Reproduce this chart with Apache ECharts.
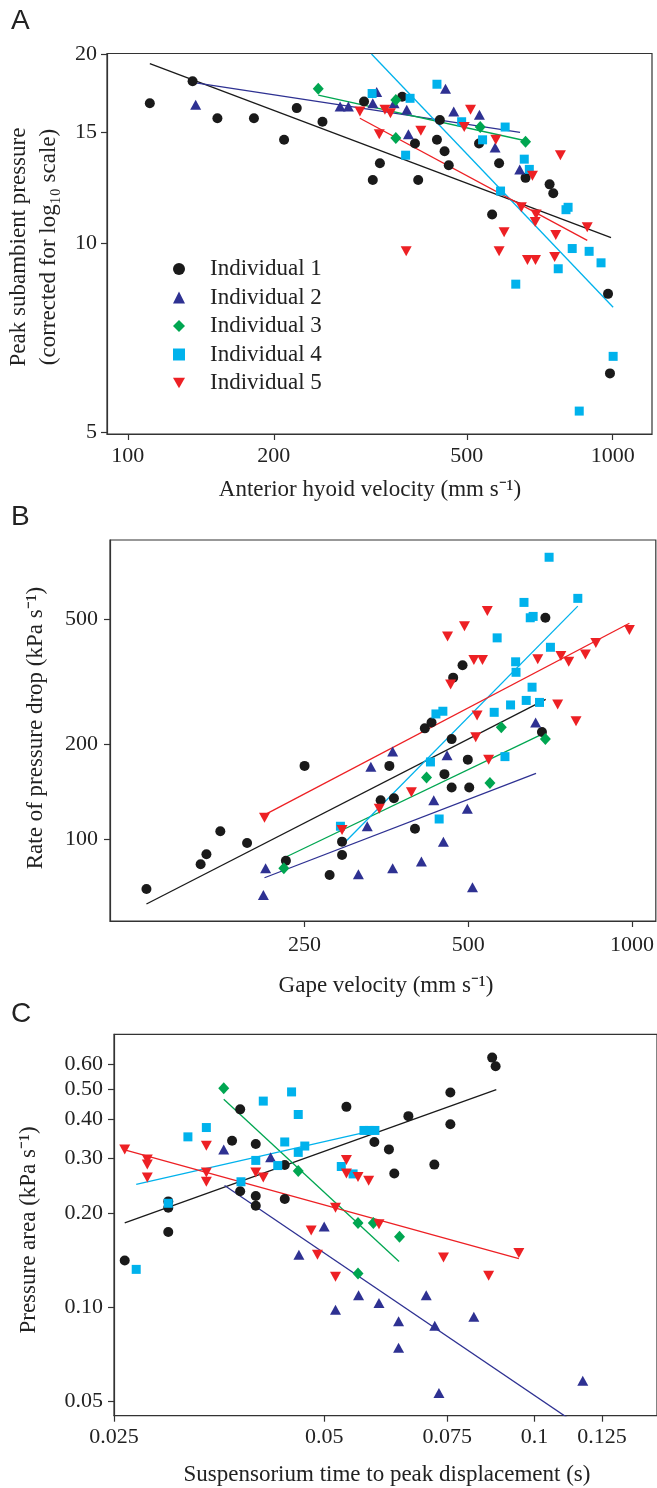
<!DOCTYPE html>
<html>
<head>
<meta charset="utf-8">
<title>Subambient pressure vs kinematics</title>
<script src="https://cdn.jsdelivr.net/npm/echarts@6/dist/echarts.min.js"></script>
<style>
  html, body { margin: 0; padding: 0; background: #fff; }
  #main { width: 657px; height: 1488px; }
</style>
</head>
<body>
<div id="main"></div>
<script>
var names = ['Individual 1', 'Individual 2', 'Individual 3', 'Individual 4', 'Individual 5'];

// ---- panel A: anterior hyoid velocity vs peak subambient pressure
var a1x = [111, 136, 153, 182, 210, 223, 252, 307, 331, 320, 368, 391, 397, 434, 440, 450, 459, 530, 583, 564, 661, 741, 754, 978, 987];
var a1y = [16.7, 18.1, 15.8, 15.8, 14.6, 16.4, 15.6, 16.8, 13.4, 12.6, 17.1, 14.4, 12.6, 14.6, 15.7, 14.0, 13.3, 14.4, 13.4, 11.1, 12.7, 12.4, 12.0, 8.3, 6.2];
var a2x = [138, 274, 285, 320, 326, 354, 376, 379, 452, 470, 531, 572, 643];
var a2y = [16.6, 16.5, 16.5, 16.7, 17.4, 16.7, 16.3, 14.9, 17.6, 16.2, 16.0, 14.2, 13.1];
var a3x = [247, 357, 357, 533, 661];
var a3y = [17.6, 16.9, 14.7, 15.3, 14.5];
var a4x = [319, 382, 374, 434, 488, 539, 600, 657, 673, 587, 801, 809, 825, 894, 946, 772, 631, 1002, 853];
var a4y = [17.3, 17.0, 13.8, 17.9, 15.6, 14.6, 15.3, 13.6, 13.1, 12.1, 11.3, 11.4, 9.8, 9.7, 9.3, 9.1, 8.6, 6.6, 5.4];
var a5x = [301, 339, 348, 330, 402, 375, 509, 494, 574, 683, 780, 648, 695, 692, 597, 583, 763, 886, 759, 667, 693];
var a5y = [16.2, 16.3, 16.1, 14.9, 15.1, 9.7, 16.3, 15.3, 14.6, 12.8, 13.8, 11.4, 11.1, 10.8, 10.4, 9.7, 10.3, 10.6, 9.5, 9.4, 9.4];
// fitted lines (end points)
var aFitX = [[111, 992], [137, 644], [247, 661], [318, 1002], [301, 886]];
var aFitY = [[19.3, 10.2], [18.0, 15.0], [17.2, 14.55], [20.0, 7.9], [15.8, 10.1]];
var aTicksX = [100, 200, 500, 1000];
var aTicksY = [5, 10, 15, 20];

// ---- panel B: gape velocity vs rate of pressure drop
var b1x = [128, 161, 165, 175, 196, 250, 231, 278, 293, 293, 358, 345, 365, 416, 428, 466, 469, 488, 452, 466, 499, 502, 399, 693, 683];
var b1y = [69.5, 83.3, 89.6, 106, 97.3, 171, 85.5, 77.0, 98.3, 89.2, 171, 133, 135, 225, 235, 208, 326, 357, 161, 146, 179, 146, 108, 505, 219];
var b2x = [212, 210, 331, 326, 363, 314, 363, 410, 432, 457, 450, 498, 509, 665];
var b2y = [80.9, 66.6, 170, 110, 190, 77.4, 80.9, 85.0, 133, 185, 98.3, 125, 70.4, 235];
var b3x = [229, 419, 575, 548, 693];
var b3y = [80.9, 157, 227, 151, 208];
var b4x = [704, 633, 795, 650, 658, 565, 708, 611, 612, 655, 598, 639, 676, 558, 436, 449, 426, 584, 442, 291];
var b4y = [786, 565, 582, 505, 510, 436, 407, 366, 339, 304, 267, 276, 272, 253, 250, 255, 176, 183, 116, 110];
var b5x = [211, 293, 343, 393, 458, 464, 492, 542, 512, 531, 671, 740, 765, 821, 858, 989, 730, 789, 519, 516, 545];
var b5y = [117, 107, 125, 141, 440, 310, 475, 531, 371, 371, 373, 382, 366, 386, 420, 462, 268, 237, 247, 211, 179];
var bFitX = [[128, 694], [211, 666], [229, 693], [292, 795], [211, 989]];
var bFitY = [[62.3, 278], [75.5, 162], [87.2, 218], [95.2, 550], [119.5, 485]];
var bTicksX = [250, 500, 1000];
var bTicksY = [100, 200, 500];

// ---- panel C: suspensorium time to peak displacement vs pressure area
var c1x = [0.0259, 0.0299, 0.0299, 0.0299, 0.0379, 0.0369, 0.0399, 0.0379, 0.0399, 0.0399, 0.0439, 0.0439, 0.0538, 0.0590, 0.0619, 0.0630, 0.0660, 0.0719, 0.0758, 0.0758, 0.0870, 0.0880];
var c1y = [0.141, 0.218, 0.208, 0.174, 0.430, 0.341, 0.333, 0.235, 0.227, 0.211, 0.285, 0.222, 0.438, 0.338, 0.320, 0.268, 0.409, 0.286, 0.487, 0.385, 0.630, 0.591];
var c2x = [0.0359, 0.0419, 0.0500, 0.0460, 0.0519, 0.0560, 0.0599, 0.0639, 0.0639, 0.0700, 0.0720, 0.0819, 0.0730, 0.1173];
var c2y = [0.320, 0.302, 0.181, 0.147, 0.098, 0.109, 0.103, 0.090, 0.074, 0.109, 0.087, 0.093, 0.053, 0.058];
var c3x = [0.0359, 0.0459, 0.0559, 0.0588, 0.0641, 0.0559];
var c3y = [0.502, 0.273, 0.186, 0.186, 0.168, 0.128];
var c4x = [0.0269, 0.0299, 0.0319, 0.0339, 0.0380, 0.0399, 0.0409, 0.0429, 0.0439, 0.0449, 0.0459, 0.0459, 0.0469, 0.0529, 0.0550, 0.0570, 0.0580, 0.0591];
var c4y = [0.132, 0.215, 0.351, 0.376, 0.252, 0.295, 0.457, 0.284, 0.338, 0.489, 0.414, 0.313, 0.328, 0.282, 0.267, 0.368, 0.368, 0.368];
var c5x = [0.0259, 0.0279, 0.0279, 0.0279, 0.0339, 0.0339, 0.0339, 0.0399, 0.0409, 0.0479, 0.0489, 0.0519, 0.0519, 0.0538, 0.0538, 0.0559, 0.0579, 0.0599, 0.0741, 0.0860, 0.0950];
var c5y = [0.320, 0.297, 0.286, 0.260, 0.329, 0.270, 0.252, 0.270, 0.260, 0.176, 0.147, 0.208, 0.125, 0.296, 0.268, 0.261, 0.254, 0.184, 0.144, 0.126, 0.149];
var cFitX = [[0.0259, 0.0882], [0.0360, 0.1173], [0.0359, 0.0640], [0.0269, 0.0591], [0.0259, 0.0950]];
var cFitY = [[0.186, 0.497], [0.245, 0.0409], [0.463, 0.140], [0.247, 0.369], [0.319, 0.143]];
var cTicksX = [0.025, 0.05, 0.075, 0.1, 0.125];
var cTicksY = [0.05, 0.10, 0.20, 0.30, 0.40, 0.50, 0.60];

var colors = ['#1a1a1a', '#2e3192', '#00a651', '#00b2ec', '#ed2024'];
var symbols = ['circle', 'triangle', 'diamond', 'rect', 'path://M0,0L2,0L1,1.75Z'];
var sizes = [10, [11, 10], [11, 12], 9, [11, 10]];
var serif = '"Liberation Serif", "Times New Roman", serif';

function pts(xs, ys) {
    return xs.map(function (x, i) { return [Math.log10(x), Math.log10(ys[i])]; });
}

var panels = [
    { xs: [a1x, a2x, a3x, a4x, a5x], ys: [a1y, a2y, a3y, a4y, a5y], fx: aFitX, fy: aFitY },
    { xs: [b1x, b2x, b3x, b4x, b5x], ys: [b1y, b2y, b3y, b4y, b5y], fx: bFitX, fy: bFitY },
    { xs: [c1x, c2x, c3x, c4x, c5x], ys: [c1y, c2y, c3y, c4y, c5y], fx: cFitX, fy: cFitY }
];

var series = [];
panels.forEach(function (p, pi) {
    for (var k = 0; k < 5; k++) {
        series.push({
            name: 'fit' + pi + k, type: 'line', xAxisIndex: pi, yAxisIndex: pi,
            data: pts(p.fx[k], p.fy[k]), symbol: 'none', silent: true, z: 2,
            lineStyle: { color: colors[k], width: 1.3 }
        });
        series.push({
            name: names[k], type: 'scatter', xAxisIndex: pi, yAxisIndex: pi,
            data: pts(p.xs[k], p.ys[k]), symbol: symbols[k], symbolSize: sizes[k], z: 3,
            itemStyle: { color: colors[k], opacity: 1 }
        });
    }
});

function intLabel(v) { return String(Math.round(Math.pow(10, v))); }

function makeAxis(idx, pos, min, max, ticks, fmt, margin) {
    var vals = ticks.map(function (t) { return Math.log10(t); });
    return {
        type: 'value', gridIndex: idx, position: pos, min: min, max: max,
        axisLine: { show: true, onZero: false, lineStyle: { color: '#333', width: 1.2 } },
        axisTick: { show: true, inside: false, length: 6, customValues: vals, lineStyle: { color: '#333', width: 1.2 } },
        axisLabel: { customValues: vals, formatter: fmt, margin: margin, color: '#222', fontFamily: serif, fontSize: 22 },
        splitLine: { show: false }
    };
}

var gridBorder = { show: true, borderColor: '#333', borderWidth: 1.2, backgroundColor: 'transparent' };

function axisTitle(x, y, text, rot) {
    return {
        type: 'text', x: x, y: y, rotation: rot || 0, silent: true,
        style: { text: text, fill: '#222', fontFamily: serif, fontSize: 23, align: 'center', verticalAlign: 'middle' }
    };
}
function letter(x, y, text) {
    return {
        type: 'text', x: x, y: y, silent: true,
        style: { text: text, fill: '#222', fontFamily: '"Liberation Sans", Arial, sans-serif', fontSize: 28, align: 'left', verticalAlign: 'middle' }
    };
}

var option = {
    backgroundColor: '#fff',
    animation: false,
    grid: [
        Object.assign({ left: 107, top: 53.5, width: 545, height: 380.5 }, gridBorder),
        Object.assign({ left: 110, top: 540, width: 546, height: 381 }, gridBorder),
        Object.assign({ left: 114, top: 1034.3, width: 544, height: 381.4 }, gridBorder)
    ],
    xAxis: [
        makeAxis(0, 'bottom', 1.957, 3.081, aTicksX, intLabel, 11),
        makeAxis(1, 'bottom', 2.0402, 3.0438, bTicksX, intLabel, 13),
        makeAxis(2, 'bottom', Math.log10(0.025), -0.8244, cTicksX, function (v) {
            return String(parseFloat(Math.pow(10, v).toPrecision(4)));
        }, 11)
    ],
    yAxis: [
        makeAxis(0, 'left', 0.6959, 1.3018, aTicksY, intLabel, 10),
        makeAxis(1, 'left', 1.7406, 2.9502, bTicksY, intLabel, 12),
        makeAxis(2, 'left', -1.3484, -0.126, cTicksY, function (v) {
            return Math.pow(10, v).toFixed(2);
        }, 11)
    ],
    legend: {
        data: names, orient: 'vertical', left: 168, top: 252, selectedMode: false,
        itemWidth: 12, itemHeight: 12, itemGap: 4.5,
        textStyle: { fontFamily: serif, fontSize: 23, color: '#222', lineHeight: 24, padding: [0, 0, 0, 20] }
    },
    graphic: [
        letter(11, 21, 'A'),
        letter(11, 517, 'B'),
        letter(11, 1014, 'C'),
        axisTitle(370, 490, 'Anterior hyoid velocity (mm s\u207B\u00B9)'),
        axisTitle(19, 247, 'Peak subambient pressure', Math.PI / 2),
        axisTitle(49, 247, '(corrected for log\u2081\u2080 scale)', Math.PI / 2),
        axisTitle(386, 986, 'Gape velocity (mm s\u207B\u00B9)'),
        axisTitle(36, 728, 'Rate of pressure drop (kPa s\u207B\u00B9)', Math.PI / 2),
        axisTitle(387, 1475, 'Suspensorium time to peak displacement (s)'),
        axisTitle(29, 1230, 'Pressure area (kPa s\u207B\u00B9)', Math.PI / 2)
    ],
    series: series
};

var chart = echarts.init(document.getElementById('main'));
chart.setOption(option);
</script>
</body>
</html>
